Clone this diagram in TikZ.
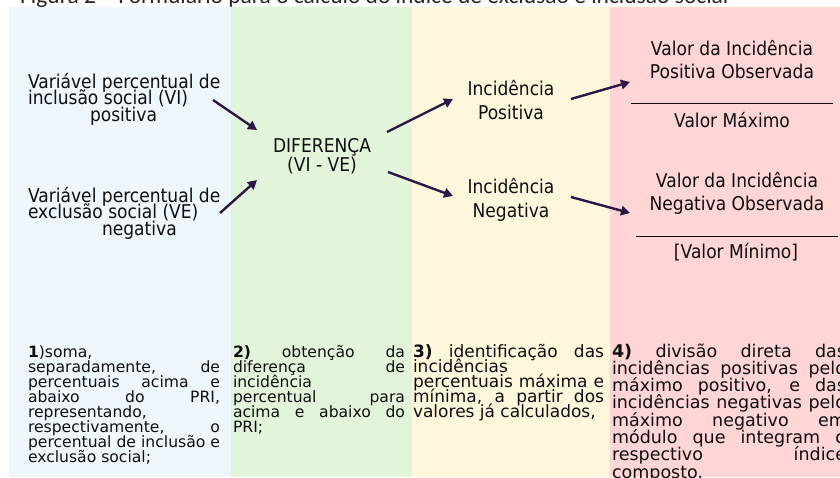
\documentclass[tikz,border=0pt]{standalone}
\usepackage{fontspec}
\setmainfont{DejaVu Sans}
\newfontfamily\condf{DejaVu Sans}[FakeStretch=0.9]
\newfontfamily\titlef{Carlito}
\usetikzlibrary{arrows.meta}
\definecolor{cblue}{RGB}{239,247,254}
\definecolor{cgreen}{RGB}{226,245,219}
\definecolor{cyellow}{RGB}{255,247,220}
\definecolor{cred}{RGB}{255,213,213}
\definecolor{arrc}{RGB}{44,24,70}
\definecolor{txt}{RGB}{15,15,15}
\newcommand\mkc[2]{\hbox to #1{\hss #2\hss}}
\newcommand\mkj[2]{\hbox to #1{#2}}
\newcommand\blk[3]{\vtop{\fontsize{#1}{#2}\selectfont\lineskiplimit=-50pt\lineskip=0pt #3}}
\tikzset{
  lab/.style={inner sep=0pt, outer sep=0pt, text=txt, font=\condf},
  body/.style={inner sep=0pt, outer sep=0pt, text=txt, anchor=base west},
  arr/.style={draw=arrc, line width=2.4pt, -{Triangle[length=9pt,width=9.5pt]}},
  rule/.style={draw=txt, line width=0.9pt}
}
\begin{document}
\begin{tikzpicture}[x=1pt,y=-1pt]
\useasboundingbox (0,0) rectangle (840,477);
\clip (0,0) rectangle (840,477);
% columns
\fill[cblue] (9,7) rectangle (231,477);
\fill[cgreen] (231,7) rectangle (412,477);
\fill[cyellow] (412,7) rectangle (610,477);
\fill[cred] (610,7) rectangle (840,477);
% title (cut at top)
\node[anchor=base west, inner sep=0pt, font=\titlef\fontsize{23.5}{23.5}\selectfont, text=black!85] (title) at (20,3) {Figura 2 – Formulário para o cálculo do índice de exclusão e inclusão social};
% upper labels
\node[lab, anchor=base west] (vi) at (28,88) {\blk{19}{16.5}{\hbox{Variável percentual de}\hbox{inclusão social (VI)}\hbox{\kern62pt positiva}}};
\node[lab, anchor=base west] (ve) at (28,202) {\blk{19}{16.5}{\hbox{Variável percentual de}\hbox{exclusão social (VE)}\hbox{\kern74pt negativa}}};
\node[lab, anchor=base] (dif) at (322,152) {\blk{19}{19}{\mkc{120pt}{DIFERENÇA}\mkc{120pt}{(VI - VE)}}};
\node[lab, anchor=base] (ipos) at (511,95) {\blk{19}{24}{\mkc{110pt}{Incidência}\mkc{110pt}{Positiva}}};
\node[lab, anchor=base] (ineg) at (511,193) {\blk{19}{24}{\mkc{110pt}{Incidência}\mkc{110pt}{Negativa}}};
\node[lab, anchor=base] (vpos) at (732,55) {\blk{19}{23}{\mkc{200pt}{Valor da Incidência}\mkc{200pt}{Positiva Observada}}};
\node[lab, anchor=base] (vmax) at (732,127) {\fontsize{19}{19}\selectfont Valor Máximo};
\node[lab, anchor=base] (vneg) at (737,187) {\blk{19}{23}{\mkc{200pt}{Valor da Incidência}\mkc{200pt}{Negativa Observada}}};
\node[lab, anchor=base] (vmin) at (736,258) {\fontsize{19}{19}\selectfont [Valor Mínimo]};
\draw[rule] (631,103) -- (833,103);
\draw[rule] (636,236) -- (838,236);
% connector end points
\coordinate (a1s) at (213,100); \coordinate (a1e) at (257,130);
\coordinate (a2s) at (220,213); \coordinate (a2e) at (257,180);
\coordinate (a3s) at (387,132); \coordinate (a3e) at (453,99);
\coordinate (a4s) at (388,172); \coordinate (a4e) at (453,196);
\coordinate (a5s) at (571,99);  \coordinate (a5e) at (630,82);
\coordinate (a6s) at (571,197); \coordinate (a6e) at (630,213);
\draw[arr] (a1s) -- (a1e);
\draw[arr] (a2s) -- (a2e);
\draw[arr] (a3s) -- (a3e);
\draw[arr] (a4s) -- (a4e);
\draw[arr] (a5s) -- (a5e);
\draw[arr] (a6s) -- (a6e);
% bottom texts
\node[body] (s1) at (28,357) {\blk{15.6}{15}{%
\hbox{\textbf{1})soma,}%
\mkj{192pt}{separadamente, de}%
\mkj{192pt}{percentuais acima e}%
\mkj{192pt}{abaixo do PRI,}%
\hbox{representando,}%
\mkj{192pt}{respectivamente, o}%
\mkj{192pt}{percentual de inclusão e}%
\hbox{exclusão social;}}};
\node[body] (s2) at (233,357) {\blk{15.6}{15}{%
\mkj{172pt}{\textbf{2)} obtenção da}%
\mkj{172pt}{diferença de}%
\hbox{incidência}%
\mkj{172pt}{percentual para}%
\mkj{172pt}{acima e abaixo do}%
\hbox{PRI;}}};
\node[body] (s3) at (413,357) {\blk{17}{15}{%
\mkj{191pt}{\textbf{3)} identificação das}%
\hbox{incidências}%
\mkj{191pt}{percentuais máxima e}%
\mkj{191pt}{mínima, a partir dos}%
\hbox{valores já calculados,}}};
\node[body] (s4) at (612,357) {\blk{17.5}{17.3}{%
\mkj{234pt}{\textbf{4)} divisão direta das}%
\mkj{234pt}{incidências positivas pelo}%
\mkj{234pt}{máximo positivo, e das}%
\mkj{234pt}{incidências negativas pelo}%
\mkj{234pt}{máximo negativo em}%
\mkj{234pt}{módulo que integram o}%
\mkj{234pt}{respectivo índice}%
\hbox{composto.}}};
\end{tikzpicture}
\end{document}
